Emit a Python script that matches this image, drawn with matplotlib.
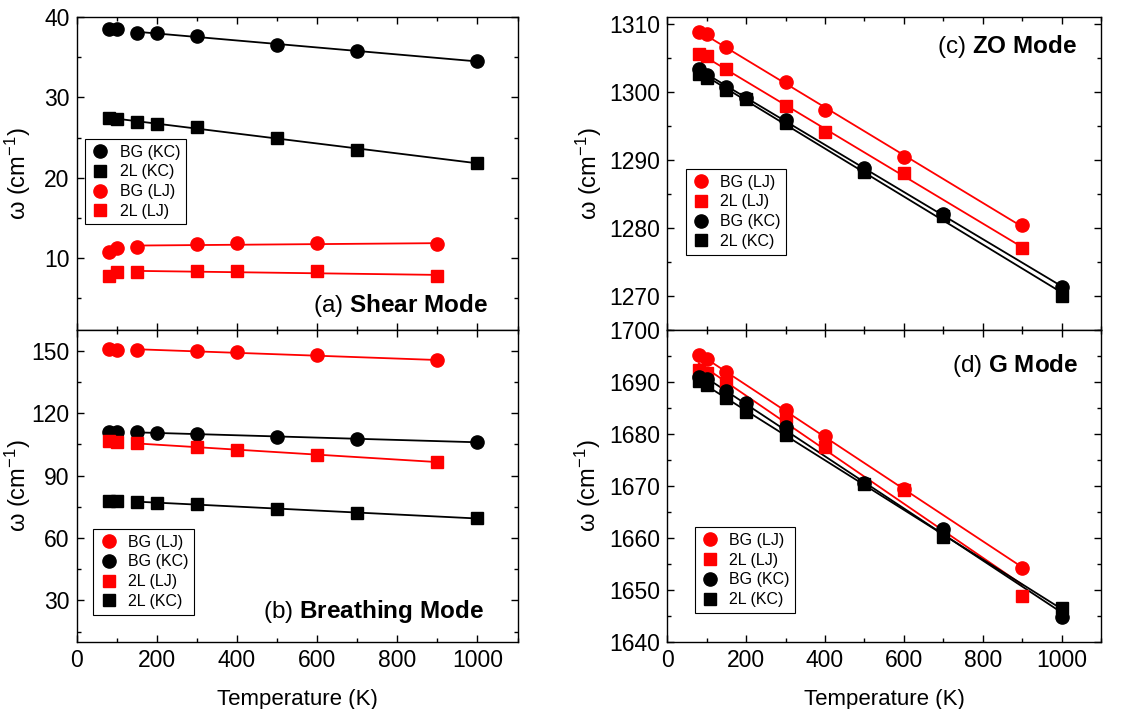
import numpy as np
import matplotlib
matplotlib.use("Agg")
import matplotlib.pyplot as plt
from matplotlib.ticker import MultipleLocator
from matplotlib.lines import Line2D

plt.rcParams['font.family'] = ['Liberation Sans', 'DejaVu Sans']
plt.rcParams['mathtext.fontset'] = 'custom'
plt.rcParams['mathtext.rm'] = 'Liberation Sans'
plt.rcParams['mathtext.it'] = 'Liberation Sans:italic'
plt.rcParams['mathtext.bf'] = 'Liberation Sans:bold'

# ---------------- data ----------------
T_KC = [80, 100, 150, 200, 300, 500, 700, 1000]
T_LJ = [80, 100, 150, 300, 400, 600, 900]

# (a) Shear mode
shear_BG_KC = [38.5, 38.5, 38.1, 38.0, 37.7, 36.6, 35.8, 34.5]
shear_2L_KC = [27.45, 27.3, 27.0, 26.7, 26.3, 25.0, 23.5, 21.8]
shear_BG_LJ = [10.7, 11.2, 11.3, 11.7, 11.8, 11.8, 11.7]
shear_2L_LJ = [7.7, 8.2, 8.2, 8.3, 8.3, 8.3, 7.7]

# (b) Breathing mode
breath_BG_LJ = [150.8, 150.5, 150.5, 149.8, 149.2, 147.8, 145.4]
breath_BG_KC = [111.1, 111.1, 110.8, 110.5, 110.0, 108.7, 107.8, 106.0]
breath_2L_LJ = [106.5, 106.2, 105.7, 103.6, 102.2, 100.1, 96.6]
breath_2L_KC = [78.0, 78.0, 77.5, 77.0, 76.2, 74.0, 72.1, 69.5]

# (c) ZO mode
zo_BG_LJ = [1308.8, 1308.5, 1306.6, 1301.5, 1297.4, 1290.5, 1280.4]
zo_2L_LJ = [1305.6, 1305.3, 1303.4, 1298.0, 1294.1, 1288.1, 1277.1]
zo_BG_KC = [1303.4, 1302.5, 1300.8, 1299.1, 1295.9, 1288.8, 1282.0, 1271.3]
zo_2L_KC = [1302.7, 1302.1, 1300.3, 1299.0, 1295.4, 1288.3, 1281.7, 1270.0]

# (d) G mode
g_BG_LJ = [1695.1, 1694.4, 1692.0, 1684.6, 1679.6, 1669.5, 1654.2]
g_2L_LJ = [1692.4, 1691.7, 1689.9, 1683.3, 1677.5, 1669.2, 1648.9]
g_BG_KC = [1690.9, 1690.5, 1688.3, 1686.0, 1681.3, 1670.6, 1661.8, 1644.8]
g_2L_KC = [1690.2, 1689.4, 1686.9, 1684.3, 1679.8, 1670.3, 1660.2, 1646.6]

RED = '#ff0000'
BLK = '#000000'

W, H = 1128, 709
fig = plt.figure(figsize=(W / 100, H / 100), dpi=100)

def fa(x0, y_top, x1, y_bot):
    return [x0 / W, 1 - y_bot / H, (x1 - x0) / W, (y_bot - y_top) / H]

axA = fig.add_axes(fa(76.5, 17.3, 517.5, 330))
axB = fig.add_axes(fa(76.5, 330, 517.5, 642))
axC = fig.add_axes(fa(667.3, 17.3, 1101, 330))
axD = fig.add_axes(fa(667.3, 330, 1101, 642))


def series(ax, T, y, color, marker, label, fit_from=None, ms=None):
    T = np.asarray(T, float)
    y = np.asarray(y, float)
    if fit_from is not None:
        m = T >= fit_from
        p = np.polyfit(T[m], y[m], 1)
        xs = np.array([T[m][0], T[m][-1]])
        ax.plot(xs, np.polyval(p, xs), color=color, lw=1.3, zorder=2)
    if ms is None:
        ms = 9.5 if marker == 'o' else 8.5
    ax.plot(T, y, ls='none', marker=marker, ms=ms, color=color,
            mec=color, label=label, zorder=3)


def style(ax, ylim, major, minor, ylab_x, xlabels=True):
    ax.set_xlim(0, 1100)
    ax.set_ylim(*ylim)
    ax.xaxis.set_major_locator(MultipleLocator(200))
    ax.xaxis.set_minor_locator(MultipleLocator(100))
    ax.yaxis.set_major_locator(MultipleLocator(major))
    ax.yaxis.set_minor_locator(MultipleLocator(minor))
    ax.tick_params(which='both', direction='in', top=True, right=True,
                   labelsize=16.5, width=1.0)
    ax.tick_params(which='major', length=5, pad=5)
    ax.tick_params(which='minor', length=3)
    for s in ax.spines.values():
        s.set_linewidth(1.0)
    if not xlabels:
        ax.tick_params(labelbottom=False)
    ax.set_ylabel(r'ω (cm$^{-1}$)', fontsize=17)
    ax.yaxis.set_label_coords(ylab_x, 0.5)


def leg(ax, x, y, handles=None, labels=None):
    kw = dict(loc='upper left', bbox_to_anchor=(x, y), borderaxespad=0,
              fontsize=11.5, frameon=True, fancybox=False, edgecolor='black',
              handlelength=1.2, handletextpad=0.6, labelspacing=0.3,
              borderpad=0.35, framealpha=1)
    if handles is None:
        lg = ax.legend(**kw)
    else:
        lg = ax.legend(handles, labels, **kw)
    lg.get_frame().set_linewidth(0.8)


# (a)
series(axA, T_KC, shear_BG_KC, BLK, 'o', 'BG (KC)', fit_from=150)
series(axA, T_KC, shear_2L_KC, BLK, 's', '2L (KC)', fit_from=80)
series(axA, T_LJ, shear_BG_LJ, RED, 'o', 'BG (LJ)', fit_from=150)
series(axA, T_LJ, shear_2L_LJ, RED, 's', '2L (LJ)', fit_from=150)
style(axA, (1, 40), 10, 5, -0.098, xlabels=False)
leg(axA, 0.02, 0.611)
axA.text(0.933, 0.058, r'(a) $\mathbf{Shear\ Mode}$', transform=axA.transAxes,
         ha='right', va='baseline', fontsize=17.5)

# (b)
series(axB, T_LJ, breath_BG_LJ, RED, 'o', 'BG (LJ)', fit_from=150)
series(axB, T_KC, breath_BG_KC, BLK, 'o', 'BG (KC)', fit_from=150)
series(axB, T_LJ, breath_2L_LJ, RED, 's', '2L (LJ)', fit_from=150)
series(axB, T_KC, breath_2L_KC, BLK, 's', '2L (KC)', fit_from=150)
style(axB, (10, 160), 30, 15, -0.098)
leg(axB, 0.0385, 0.362)
axB.text(0.924, 0.076, r'(b) $\mathbf{Breathing\ Mode}$', transform=axB.transAxes,
         ha='right', va='baseline', fontsize=17.5)
axB.set_xlabel('Temperature (K)', fontsize=16, labelpad=12)

# (c)
series(axC, T_LJ, zo_BG_LJ, RED, 'o', 'BG (LJ)', fit_from=80)
series(axC, T_LJ, zo_2L_LJ, RED, 's', '2L (LJ)', fit_from=80)
series(axC, T_KC, zo_2L_KC, BLK, 's', None, fit_from=80)
series(axC, T_KC, zo_BG_KC, BLK, 'o', 'BG (KC)', fit_from=80)
style(axC, (1265, 1311), 10, 5, -0.147, xlabels=False)
h, l = axC.get_legend_handles_labels()
h.append(Line2D([], [], ls='none', marker='s', ms=8.5, color=BLK))
l.append('2L (KC)')
leg(axC, 0.043, 0.515, h, l)
axC.text(0.944, 0.885, r'(c) $\mathbf{ZO\ Mode}$', transform=axC.transAxes,
         ha='right', va='baseline', fontsize=17.5)

# (d)
series(axD, T_LJ, g_BG_LJ, RED, 'o', 'BG (LJ)', fit_from=80)
series(axD, T_LJ, g_2L_LJ, RED, 's', '2L (LJ)', fit_from=80)
series(axD, T_KC, g_2L_KC, BLK, 's', None, fit_from=80)
series(axD, T_KC, g_BG_KC, BLK, 'o', 'BG (KC)', fit_from=80)
style(axD, (1640, 1700), 10, 5, -0.149)
h, l = axD.get_legend_handles_labels()
h.append(Line2D([], [], ls='none', marker='s', ms=8.5, color=BLK))
l.append('2L (KC)')
leg(axD, 0.064, 0.368, h, l)
axD.text(0.948, 0.864, r'(d) $\mathbf{G\ Mode}$', transform=axD.transAxes,
         ha='right', va='baseline', fontsize=17.5)
axD.set_xlabel('Temperature (K)', fontsize=16, labelpad=12)

fig.savefig('out.png', dpi=100)
